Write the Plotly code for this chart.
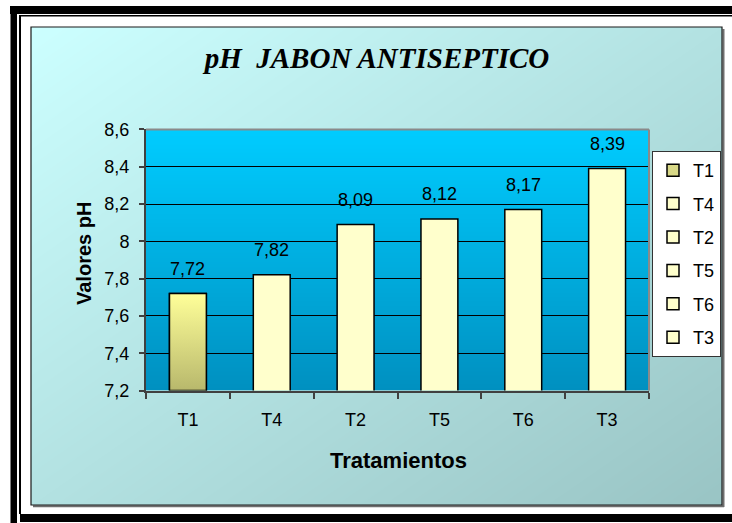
import plotly.graph_objects as go

# ---- data ----
categories = ["T1", "T4", "T2", "T5", "T6", "T3"]
values = [7.72, 7.82, 8.09, 8.12, 8.17, 8.39]
bar_colors = ["#D8D887", "#FFFFCC", "#FFFFCC", "#FFFFCC", "#FFFFCC", "#FFFFCC"]
y_range = [7.2, 8.6]
y_step = 0.2
title_text = "pH\u00a0\u00a0JABON ANTISEPTICO"
x_title = "Tratamientos"
y_title = "Valores pH"

# ---- layout helpers (pixel -> paper) ----
W, H = 732, 523
def px(x):
    return x / W
def py(y):
    return 1 - y / H

CHART = (31, 27, 722, 505)      # left, top, right, bottom
PLOT = (146, 129.4, 649, 390.5)
BAR_W = 0.44
FONT = "Liberation Sans, Arial, sans-serif"

fig = go.Figure()

# chart-area diagonal gradient (decoration)
fig.add_trace(go.Heatmap(
    z=[[1, 2], [0, 1]], x=[0, 1], y=[0, 1], zmin=0, zmax=2, zsmooth="best",
    colorscale=[[0, "#CCFFFF"], [1, "#99C4C4"]], showscale=False,
    hoverinfo="skip", xaxis="x", yaxis="y"))

# plot-area vertical gradient (decoration)
fig.add_trace(go.Heatmap(
    z=[[0, 0], [1, 1]], x=[0, 1], y=[0, 1], zmin=0, zmax=1, zsmooth="best",
    colorscale=[[0, "#0090C0"], [1, "#00CCFF"]], showscale=False,
    hoverinfo="skip", xaxis="x2", yaxis="y2"))

# bars, one trace per treatment (legend per point)
for i, (c, v) in enumerate(zip(categories, values)):
    fig.add_trace(go.Bar(
        x=[c], y=[v], name=c, width=BAR_W, legendgroup=c,
        marker=dict(color=bar_colors[i], line=dict(color="#000000", width=1.5)),
        hoverinfo="x+y", xaxis="x3", yaxis="y3"))

# gradient overlay for the first bar
i0 = 0
v0 = values[i0]
fig.add_trace(go.Scatter(
    x=[i0 - BAR_W / 2, i0 + BAR_W / 2, i0 + BAR_W / 2, i0 - BAR_W / 2, i0 - BAR_W / 2],
    y=[y_range[0], y_range[0], v0, v0, y_range[0]],
    mode="lines", fill="toself",
    fillgradient=dict(type="vertical", colorscale=[[0, "#B8B86C"], [1, "#FFFF99"]]),
    line=dict(color="#000000", width=1.5),
    showlegend=False, hoverinfo="skip", xaxis="x4", yaxis="y3"))

annotations = []
for c, v in zip(categories, values):
    annotations.append(dict(
        x=c, y=v, xref="x3", yref="y3", text=f"{v:.2f}".replace(".", ","),
        showarrow=False, yanchor="middle", yshift=25,
        font=dict(family=FONT, size=18, color="#000000")))

annotations.append(dict(
    x=px(398), y=py(460), xref="paper", yref="paper", text=x_title,
    showarrow=False, xanchor="center", yanchor="middle",
    font=dict(family=FONT, size=22, color="#000000", weight="bold")))
annotations.append(dict(
    x=px(84), y=py(254), xref="paper", yref="paper", text=y_title,
    showarrow=False, xanchor="center", yanchor="middle", textangle=-90,
    font=dict(family=FONT, size=20, color="#000000", weight="bold")))

shapes = [
    # outer black frame
    dict(type="rect", xref="paper", yref="paper", x0=px(10), x1=px(732), y0=py(6), y1=py(14),
         fillcolor="#000000", line=dict(width=0), layer="above"),
    dict(type="rect", xref="paper", yref="paper", x0=px(10.5), x1=px(17), y0=py(6), y1=py(523),
         fillcolor="#000000", line=dict(width=0), layer="above"),
    dict(type="line", xref="paper", yref="paper", x0=px(19), x1=px(732), y0=py(15.8), y1=py(15.8),
         line=dict(color="#000000", width=1.6), layer="above"),
    dict(type="line", xref="paper", yref="paper", x0=px(20), x1=px(20), y0=py(15), y1=py(514),
         line=dict(color="#000000", width=2), layer="above"),
    dict(type="rect", xref="paper", yref="paper", x0=px(20), x1=px(732), y0=py(514), y1=py(522),
         fillcolor="#000000", line=dict(width=0), layer="above"),
    # chart area shadow + border
    dict(type="line", xref="paper", yref="paper", x0=px(723.5), x1=px(723.5), y0=py(29), y1=py(507),
         line=dict(color="#6E6E6E", width=2), layer="above"),
    dict(type="line", xref="paper", yref="paper", x0=px(33), x1=px(724), y0=py(506.3), y1=py(506.3),
         line=dict(color="#6E6E6E", width=2), layer="above"),
    dict(type="rect", xref="paper", yref="paper", x0=px(CHART[0]), x1=px(CHART[2]),
         y0=py(CHART[3]), y1=py(CHART[1]), line=dict(color="#1A1A1A", width=1.2), layer="above"),
    # plot-area top/right border
    dict(type="line", xref="x3 domain", yref="y3 domain", x0=0, x1=1, y0=1, y1=1,
         line=dict(color="#8A8A8A", width=2), layer="above"),
    dict(type="line", xref="x3 domain", yref="y3 domain", x0=1, x1=1, y0=0, y1=1,
         line=dict(color="#8A8A8A", width=2), layer="above"),
]

chart_x = [px(CHART[0]), px(CHART[2])]
chart_y = [py(CHART[3]), py(CHART[1])]
plot_x = [px(PLOT[0]), px(PLOT[2])]
plot_y = [py(PLOT[3]), py(PLOT[1])]

hidden = dict(visible=False, range=[0, 1], fixedrange=True, showgrid=False, zeroline=False,
              automargin=False)

fig.update_layout(
    width=W, height=H, autosize=False,
    margin=dict(l=0, r=0, t=0, b=0, pad=0, autoexpand=False),
    paper_bgcolor="#FFFFFF", plot_bgcolor="rgba(0,0,0,0)",
    separators=",.",
    barmode="overlay",
    font=dict(family=FONT, size=18, color="#000000"),
    title=dict(text=title_text, x=px(377), y=py(58), xanchor="center", yanchor="middle",
               xref="paper", yref="paper", automargin=False,
               font=dict(family="Liberation Serif, Times New Roman, serif", size=29,
                         color="#000000", weight="bold", style="italic")),
    xaxis=dict(domain=chart_x, anchor="y", **hidden),
    yaxis=dict(domain=chart_y, anchor="x", **hidden),
    xaxis2=dict(domain=plot_x, anchor="y2", **hidden),
    yaxis2=dict(domain=plot_y, anchor="x2", **hidden),
    xaxis3=dict(domain=plot_x, anchor="y3", type="category", categoryorder="array",
                categoryarray=categories, range=[-0.5, len(categories) - 0.5],
                tickson="boundaries", ticks="outside", ticklen=6, tickcolor="#404040",
                tickwidth=1.5, showline=True, linecolor="#404040", linewidth=2,
                showgrid=False, zeroline=False, ticklabelstandoff=12, automargin=False,
                tickfont=dict(family=FONT, size=18, color="#000000"), fixedrange=True),
    xaxis4=dict(overlaying="x3", anchor="y3", range=[-0.5, len(categories) - 0.5],
                visible=False, fixedrange=True, automargin=False),
    yaxis3=dict(domain=plot_y, anchor="x3", range=y_range, dtick=y_step, tick0=y_range[0],
                ticks="outside", ticklen=5, tickcolor="#404040", tickwidth=1.5,
                showline=True, linecolor="#404040", linewidth=2,
                showgrid=True, gridcolor="#000000", gridwidth=1, zeroline=False,
                ticklabelstandoff=6, automargin=False,
                tickfont=dict(family=FONT, size=18, color="#000000"), fixedrange=True),
    legend=dict(x=px(652), y=py(151), xanchor="left", yanchor="top",
                bgcolor="#FFFFFF", bordercolor="#333333", borderwidth=1,
                font=dict(family=FONT, size=18, color="#000000"),
                traceorder="grouped", tracegroupgap=7, itemwidth=30),
    annotations=annotations,
    shapes=shapes,
    showlegend=True,
)

fig.write_html(
    "out.html",
    config={"displayModeBar": False},
    post_script=(
        "document.documentElement.style.margin='0';"
        "document.body.style.margin='0';"
        "document.body.style.overflow='hidden';"
        "document.documentElement.style.overflow='hidden';"
        "var gd=document.getElementById('{plot_id}');"
        "gd.style.position='fixed';gd.style.top='0px';gd.style.left='0px';"
    ),
)
